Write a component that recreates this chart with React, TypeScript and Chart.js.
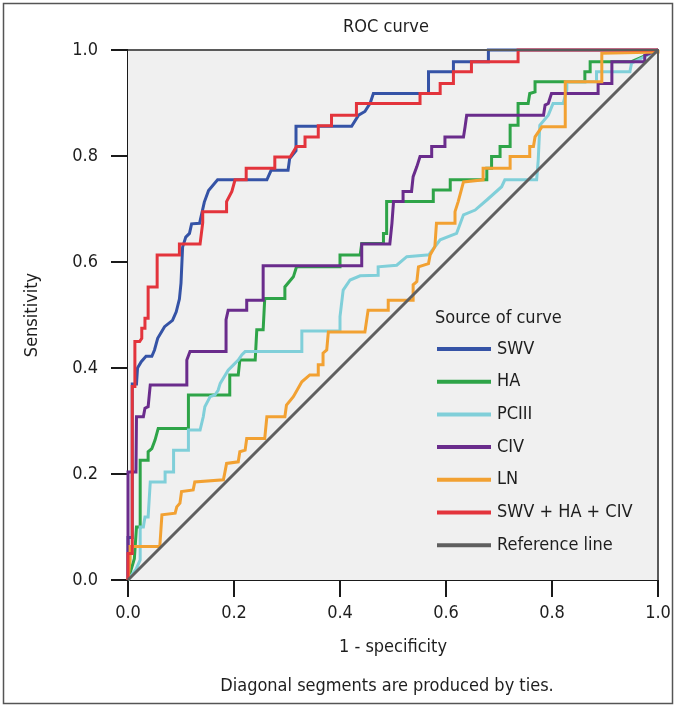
import React, { useEffect, useRef } from "react";
import { Chart, registerables } from "chart.js";

Chart.register(...registerables);

type Pt = [number, number];

const TITLE = "ROC curve";
const X_TITLE = "1 - specificity";
const Y_TITLE = "Sensitivity";
const FOOTNOTE = "Diagonal segments are produced by ties.";
const LEGEND_TITLE = "Source of curve";

const SERIES_NAMES = ["SWV", "HA", "PCIII", "CIV", "LN", "SWV + HA + CIV", "Reference line"];
const SERIES_COLORS = ["#3553a6", "#2ea448", "#80cfd9", "#6a2c8c", "#f2a132", "#e3343c", "#5f5f5f"];

const SWV: Pt[] = [
  [0, 0], [0, 0.08], [0.008, 0.08], [0.008, 0.37], [0.016, 0.37], [0.018, 0.4], [0.025, 0.412],
  [0.034, 0.422], [0.045, 0.422], [0.05, 0.434], [0.056, 0.456], [0.069, 0.478], [0.084, 0.49],
  [0.091, 0.506], [0.097, 0.53], [0.1, 0.56], [0.103, 0.628], [0.109, 0.647], [0.116, 0.654],
  [0.12, 0.672], [0.135, 0.673], [0.144, 0.713], [0.152, 0.735], [0.169, 0.755], [0.262, 0.755],
  [0.27, 0.773], [0.302, 0.773], [0.305, 0.795], [0.317, 0.81], [0.317, 0.856], [0.422, 0.856],
  [0.435, 0.877], [0.447, 0.884], [0.457, 0.9], [0.463, 0.918], [0.567, 0.918], [0.567, 0.959],
  [0.614, 0.959], [0.614, 0.978], [0.68, 0.978], [0.68, 1], [1, 1],
];

const HA: Pt[] = [
  [0, 0], [0.012, 0.04], [0.016, 0.1], [0.023, 0.1], [0.023, 0.226], [0.038, 0.226], [0.038, 0.242],
  [0.045, 0.248], [0.051, 0.264], [0.057, 0.286], [0.114, 0.286], [0.114, 0.349], [0.192, 0.349],
  [0.192, 0.387], [0.208, 0.387], [0.211, 0.415], [0.24, 0.415], [0.243, 0.472], [0.255, 0.472],
  [0.258, 0.531], [0.296, 0.531], [0.296, 0.553], [0.312, 0.572], [0.318, 0.591], [0.4, 0.591],
  [0.4, 0.613], [0.438, 0.613], [0.441, 0.635], [0.482, 0.635], [0.482, 0.654], [0.488, 0.654],
  [0.488, 0.714], [0.576, 0.714], [0.576, 0.736], [0.608, 0.736], [0.608, 0.755], [0.677, 0.755],
  [0.677, 0.777], [0.686, 0.777], [0.686, 0.799], [0.702, 0.799], [0.702, 0.818], [0.721, 0.818],
  [0.721, 0.858], [0.736, 0.858], [0.736, 0.899], [0.755, 0.899], [0.758, 0.918], [0.768, 0.921],
  [0.768, 0.94], [0.862, 0.94], [0.862, 0.959], [0.872, 0.959], [0.872, 0.978], [0.95, 0.978],
  [1, 1],
];

const PCIII: Pt[] = [
  [0, 0], [0.015, 0.02], [0.023, 0.038], [0.023, 0.1], [0.029, 0.1], [0.032, 0.119], [0.038, 0.119],
  [0.042, 0.185], [0.07, 0.185], [0.07, 0.204], [0.086, 0.204], [0.086, 0.245], [0.114, 0.245],
  [0.114, 0.283], [0.136, 0.283], [0.142, 0.308], [0.145, 0.327], [0.155, 0.346], [0.164, 0.349],
  [0.17, 0.358], [0.174, 0.371], [0.189, 0.396], [0.199, 0.406], [0.208, 0.415], [0.215, 0.425],
  [0.221, 0.431], [0.328, 0.431], [0.328, 0.47], [0.4, 0.47], [0.4, 0.497], [0.406, 0.547],
  [0.419, 0.566], [0.438, 0.574], [0.472, 0.575], [0.472, 0.591], [0.507, 0.594], [0.526, 0.61],
  [0.564, 0.613], [0.567, 0.613], [0.589, 0.642], [0.62, 0.654], [0.633, 0.689], [0.655, 0.698],
  [0.677, 0.717], [0.705, 0.742], [0.711, 0.755], [0.771, 0.755], [0.774, 0.792], [0.777, 0.858],
  [0.793, 0.877], [0.802, 0.899], [0.821, 0.899], [0.828, 0.925], [0.828, 0.94], [0.884, 0.94],
  [0.884, 0.959], [0.947, 0.959], [0.95, 0.975], [1, 1],
];

const CIV: Pt[] = [
  [0, 0], [0, 0.204], [0.015, 0.204], [0.016, 0.308], [0.029, 0.308], [0.032, 0.324], [0.038, 0.327],
  [0.042, 0.368], [0.111, 0.368], [0.111, 0.415], [0.117, 0.431], [0.185, 0.431], [0.185, 0.491],
  [0.189, 0.509], [0.224, 0.509], [0.224, 0.528], [0.255, 0.528], [0.255, 0.593], [0.441, 0.593],
  [0.441, 0.634], [0.494, 0.634], [0.498, 0.673], [0.501, 0.714], [0.519, 0.714], [0.519, 0.733],
  [0.535, 0.733], [0.538, 0.761], [0.545, 0.78], [0.551, 0.799], [0.573, 0.799], [0.573, 0.818],
  [0.598, 0.818], [0.598, 0.836], [0.633, 0.836], [0.636, 0.855], [0.639, 0.877], [0.784, 0.877],
  [0.787, 0.896], [0.793, 0.899], [0.799, 0.918], [0.887, 0.918], [0.887, 0.937], [0.913, 0.937],
  [0.913, 0.978], [0.975, 0.978], [0.975, 0.99], [1, 1],
];

const LN: Pt[] = [
  [0, 0], [0.004, 0.038], [0.004, 0.063], [0.06, 0.063], [0.064, 0.123], [0.089, 0.126],
  [0.092, 0.138], [0.098, 0.145], [0.101, 0.167], [0.123, 0.17], [0.126, 0.185], [0.18, 0.189],
  [0.183, 0.204], [0.186, 0.22], [0.208, 0.223], [0.211, 0.242], [0.221, 0.245], [0.224, 0.267],
  [0.258, 0.267], [0.262, 0.308], [0.296, 0.308], [0.299, 0.33], [0.312, 0.346], [0.328, 0.374],
  [0.343, 0.387], [0.359, 0.387], [0.359, 0.406], [0.368, 0.406], [0.368, 0.428], [0.375, 0.434],
  [0.378, 0.468], [0.447, 0.468], [0.453, 0.509], [0.491, 0.509], [0.491, 0.528], [0.538, 0.528],
  [0.538, 0.557], [0.545, 0.563], [0.548, 0.591], [0.567, 0.597], [0.57, 0.613], [0.579, 0.629],
  [0.582, 0.673], [0.617, 0.673], [0.617, 0.695], [0.623, 0.714], [0.633, 0.751], [0.67, 0.755],
  [0.67, 0.777], [0.721, 0.777], [0.721, 0.799], [0.758, 0.799], [0.758, 0.818], [0.765, 0.818],
  [0.768, 0.836], [0.781, 0.855], [0.825, 0.855], [0.825, 0.94], [0.894, 0.94], [0.894, 0.994],
  [1, 0.996], [1, 1],
];

const COMBINED: Pt[] = [
  [0, 0], [0, 0.05], [0.008, 0.05], [0.008, 0.365], [0.013, 0.365], [0.013, 0.45], [0.022, 0.45],
  [0.026, 0.456], [0.026, 0.475], [0.032, 0.475], [0.032, 0.494], [0.038, 0.494], [0.038, 0.553],
  [0.055, 0.553], [0.055, 0.613], [0.097, 0.613], [0.097, 0.634], [0.136, 0.634], [0.141, 0.674],
  [0.141, 0.695], [0.186, 0.695], [0.186, 0.714], [0.196, 0.733], [0.202, 0.755], [0.223, 0.755],
  [0.223, 0.777], [0.277, 0.777], [0.277, 0.798], [0.306, 0.798], [0.318, 0.818], [0.334, 0.818],
  [0.334, 0.836], [0.359, 0.836], [0.359, 0.857], [0.384, 0.857], [0.384, 0.877], [0.431, 0.877],
  [0.431, 0.899], [0.551, 0.899], [0.551, 0.918], [0.589, 0.918], [0.589, 0.937], [0.614, 0.937],
  [0.614, 0.959], [0.648, 0.959], [0.648, 0.978], [0.736, 0.978], [0.736, 1], [1, 1],
];

const REFERENCE: Pt[] = [[0, 0], [1, 1]];

const SERIES: Pt[][] = [SWV, HA, PCIII, CIV, LN, COMBINED, REFERENCE];
const DRAW_ORDER = [6, 5, 4, 3, 2, 1, 0];

const X_TICKS = [0, 0.2, 0.4, 0.6, 0.8, 1.0];
const Y_TICKS = [0, 0.2, 0.4, 0.6, 0.8, 1.0];

const FONT_FAMILY = "'DejaVu Sans Condensed', 'DejaVu Sans', sans-serif";
const TEXT_COLOR = "#1e1e1e";

const decorPlugin = {
  id: "decor",
  beforeDatasetsDraw(chart: any) {
    const { ctx, chartArea } = chart;
    ctx.save();
    ctx.fillStyle = "#f0f0f0";
    ctx.fillRect(chartArea.left, chartArea.top, chartArea.right - chartArea.left, chartArea.bottom - chartArea.top);
    ctx.restore();
  },
  afterDatasetsDraw(chart: any) {
    const { ctx, chartArea } = chart;
    ctx.save();
    ctx.strokeStyle = "#5a5a5a";
    ctx.lineWidth = 2;
    ctx.beginPath();
    ctx.moveTo(chartArea.left, chartArea.top);
    ctx.lineTo(chartArea.right, chartArea.top);
    ctx.lineTo(chartArea.right, chartArea.bottom);
    ctx.stroke();
    ctx.restore();
  },
  afterDraw(chart: any) {
    const { ctx, chartArea } = chart;
    ctx.save();
    ctx.fillStyle = TEXT_COLOR;
    ctx.font = `18px ${FONT_FAMILY}`;
    ctx.textBaseline = "middle";
    ctx.textAlign = "center";
    ctx.fillText(TITLE, 386, 27);
    ctx.fillText(FOOTNOTE, 387, 686);

    // legend inside the plot area
    const lx = chartArea.left + 307;
    ctx.textAlign = "left";
    ctx.fillText(LEGEND_TITLE, lx, 318);
    const datasets = chart.data.datasets;
    datasets.forEach((ds: any, i: number) => {
      const y = 349 + i * 32.7;
      ctx.strokeStyle = ds.borderColor;
      ctx.lineWidth = 4;
      ctx.beginPath();
      ctx.moveTo(lx + 2, y);
      ctx.lineTo(lx + 56, y);
      ctx.stroke();
      ctx.fillStyle = TEXT_COLOR;
      ctx.fillText(ds.label, lx + 62, y);
    });

    // outer frame
    ctx.strokeStyle = "#555555";
    ctx.lineWidth = 1.5;
    ctx.strokeRect(3.5, 3.5, 669, 700);
    ctx.restore();
  },
};

export default function App() {
  const canvasRef = useRef<HTMLCanvasElement | null>(null);

  useEffect(() => {
    document.body.style.margin = "0";
    const canvas = canvasRef.current;
    if (!canvas) return;

    const datasets = SERIES.map((pts, i) => ({
      label: SERIES_NAMES[i],
      data: pts.map(([x, y]) => ({ x, y })),
      borderColor: SERIES_COLORS[i],
      backgroundColor: SERIES_COLORS[i],
      borderWidth: 3,
      pointRadius: 0,
      showLine: true,
      fill: false,
      tension: 0,
      order: DRAW_ORDER[i],
      clip: 4,
    }));

    const chart = new Chart(canvas, {
      type: "scatter",
      data: { datasets },
      plugins: [decorPlugin],
      options: {
        responsive: false,
        animation: false,
        events: [],
        layout: { padding: { top: 50, right: 19, bottom: 52, left: 0 } },
        plugins: {
          legend: { display: false },
          title: { display: false },
          tooltip: { enabled: false },
        },
        scales: {
          x: {
            type: "linear",
            min: 0,
            max: 1,
            afterFit: (scale: any) => {
              scale.height = 78;
            },
            afterBuildTicks: (scale: any) => {
              scale.ticks = X_TICKS.map((v) => ({ value: v }));
            },
            ticks: {
              padding: 6,
              color: TEXT_COLOR,
              font: { family: FONT_FAMILY, size: 18 },
              maxRotation: 0,
              autoSkip: false,
              callback: (v: any) => Number(v).toFixed(1),
            },
            grid: {
              display: true,
              drawOnChartArea: false,
              drawTicks: true,
              tickLength: 17,
              color: "#1a1a1a",
              lineWidth: 2,
            },
            border: { display: true, color: "#1a1a1a", width: 2 },
            title: {
              display: true,
              text: X_TITLE,
              color: TEXT_COLOR,
              font: { family: FONT_FAMILY, size: 18 },
              padding: { top: 0, bottom: 0 },
            },
          },
          y: {
            type: "linear",
            min: 0,
            max: 1,
            afterFit: (scale: any) => {
              scale.width = 128;
            },
            afterBuildTicks: (scale: any) => {
              scale.ticks = Y_TICKS.map((v) => ({ value: v }));
            },
            ticks: {
              padding: 13,
              color: TEXT_COLOR,
              font: { family: FONT_FAMILY, size: 18 },
              autoSkip: false,
              callback: (v: any) => Number(v).toFixed(1),
            },
            grid: {
              display: true,
              drawOnChartArea: false,
              drawTicks: true,
              tickLength: 17,
              color: "#1a1a1a",
              lineWidth: 2,
            },
            border: { display: true, color: "#1a1a1a", width: 2 },
            title: {
              display: true,
              text: Y_TITLE,
              color: TEXT_COLOR,
              font: { family: FONT_FAMILY, size: 18 },
              padding: { top: 22, bottom: 0 },
            },
          },
        },
      },
    } as any);

    return () => {
      chart.destroy();
    };
  }, []);

  return (
    <div style={{ width: 677, height: 710 }}>
      <canvas ref={canvasRef} width={677} height={710} style={{ display: "block" }} />
    </div>
  );
}
